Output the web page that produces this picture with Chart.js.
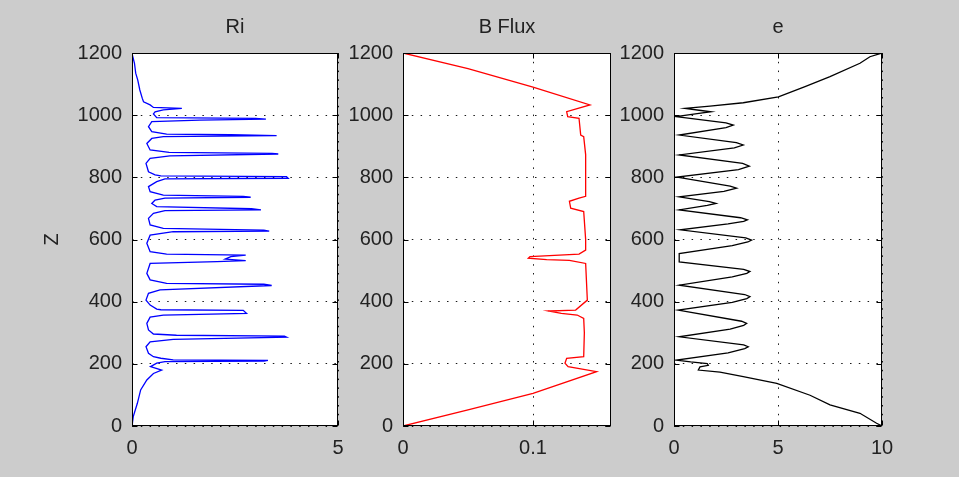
<!DOCTYPE html>
<html><head><meta charset="utf-8">
<script src="https://cdn.jsdelivr.net/npm/chart.js@4.4.1/dist/chart.umd.min.js"></script>
<style>
html,body{margin:0;padding:0;background:#cccccc;}
#wrap{position:relative;width:959px;height:477px;overflow:hidden;background:#cccccc;}
#wrap canvas{position:absolute;left:0;top:0;}
</style></head><body>
<div id="wrap">
<canvas id="c1" width="959" height="477"></canvas>
<canvas id="c2" width="959" height="477"></canvas>
<canvas id="c3" width="959" height="477"></canvas>
</div>
<script>
// ---- tick labels ----
const zTicks = [0, 200, 400, 600, 800, 1000, 1200];
const riTicks = [0, 5];
const fluxTicks = [0, 0.1];
const eTicks = [0, 5, 10];
const panelTitles = ['Ri', 'B Flux', 'e'];
const zLabel = 'Z';

// ---- Ri profile ----
const riZ = [0,9,30,73,116,148,169,180,191,202,207,209,211,213,218,223,234,255,271,279,286,289,292,296,309,330,350,357,362,372,374,376,389,405,427,438,452,456,459,470,491,523,529,532,537,545,550,553,561,588,614,625,627,630,636,647,668,684,693,695,699,706,716,727,733,736,739,743,754,770,786,795,797,802,805,808,818,845,861,869,875,877,880,888,909,925,931,934,937,939,947,963,979,984,987,990,992,1004,1011,1017,1022,1025,1033,1043,1054,1081,1113,1135,1167,1199,1200];
const riValues = [0,0.01,0.03,0.13,0.21,0.36,0.52,0.72,0.45,0.6,0.8,3.2,3.3,1.0,0.7,0.52,0.40,0.34,0.44,1.0,3.75,3.7,1.08,0.52,0.40,0.36,0.44,0.76,2.78,2.7,0.7,0.6,0.44,0.34,0.40,0.68,3.39,3.2,0.84,0.44,0.36,0.44,2.06,2.76,2.26,2.4,2.76,0.84,0.44,0.36,0.44,1.0,3.33,3.2,0.76,0.44,0.40,0.52,0.8,3.13,2.9,0.6,0.48,0.56,0.8,2.88,2.7,0.76,0.44,0.40,0.60,0.8,3.79,3.75,0.7,0.56,0.40,0.34,0.44,0.92,3.55,3.4,0.9,0.44,0.36,0.48,0.76,3.51,2.4,0.84,0.48,0.40,0.48,1.65,3.25,3.0,0.6,0.52,0.56,0.76,1.21,0.52,0.44,0.28,0.25,0.19,0.14,0.09,0.06,0.0,0];

// ---- B Flux profile ----
const fluxZ = [0,52,105,175,191,202,218,223,300,346,357,362,370,373,405,523,533,535,540,545,553,566,600,690,701,723,733,739,873,931,936,990,995,1011,1033,1090,1150,1200];
const fluxValues = [0,0.05,0.1,0.1489,0.127,0.1246,0.1259,0.139,0.1395,0.139,0.134,0.1218,0.1118,0.1328,0.1418,0.1405,0.128,0.1105,0.0964,0.0977,0.1354,0.1405,0.1405,0.139,0.129,0.128,0.1354,0.1405,0.1405,0.139,0.1367,0.1354,0.1267,0.1259,0.1438,0.1,0.05,0];

// ---- e profile ----
const eZ = [0,9,41,68,99,137,159,173,180,190,195,201,206,212,235,249,255,261,287,312,324,330,337,373,398,410,416,423,453,480,491,497,504,528,555,580,592,598,605,631,650,658,663,670,695,710,716,722,737,755,765,772,801,825,836,845,872,895,904,912,936,960,968,975,995,1006,1011,1015,1022,1029,1040,1059,1092,1124,1167,1188,1200];
const eValues = [10,9.74,8.94,7.5,6.54,4.94,3.33,2.21,1.17,1.25,1.65,1.6,0.8,0.13,2.6,3.4,3.57,3.35,0.25,2.7,3.35,3.49,3.25,0.2,2.8,3.5,3.65,3.4,0.25,2.8,3.5,3.65,3.35,0.25,0.25,2.8,3.55,3.73,3.45,0.3,2.6,3.35,3.53,3.2,0.25,1.6,2.02,1.7,0.25,2.4,3.01,2.7,0.15,3.1,3.62,3.3,0.25,2.9,3.33,3.0,0.25,2.5,2.85,2.5,0.1,1.2,1.77,1.3,0.53,1.73,3.33,5.02,6.3,7.5,8.94,9.42,10];

Chart.defaults.font.family = '"Liberation Sans", Arial, Helvetica, sans-serif';
Chart.defaults.font.size = 20;
Chart.defaults.color = '#222';

const boxPlugin = {
  id: 'boxTicks',
  beforeDraw(chart) {
    const ctx = chart.ctx, a = chart.chartArea;
    ctx.save();
    ctx.fillStyle = '#ffffff';
    ctx.fillRect(a.left, a.top, a.right - a.left, a.bottom - a.top);
    ctx.restore();
  },
  afterDatasetsDraw(chart) {
    const ctx = chart.ctx, a = chart.chartArea, xs = chart.scales.x, ys = chart.scales.y;
    const L = Math.round(a.left) + 0.5, R = Math.round(a.right) - 0.5;
    const T = Math.round(a.top) + 0.5, B = Math.round(a.bottom) - 0.5;
    ctx.save();
    ctx.strokeStyle = '#000';
    ctx.lineWidth = 1;
    ctx.beginPath();
    ys.ticks.forEach(t => {
      const p = Math.round(ys.getPixelForValue(t.value)) + 0.5;
      ctx.moveTo(L, p); ctx.lineTo(L + 5, p);
      ctx.moveTo(R, p); ctx.lineTo(R - 5, p);
    });
    xs.ticks.forEach(t => {
      const p = Math.round(xs.getPixelForValue(t.value)) + 0.5;
      ctx.moveTo(p, B); ctx.lineTo(p, B - 5);
      ctx.moveTo(p, T); ctx.lineTo(p, T + 5);
    });
    ctx.stroke();
    ctx.strokeRect(L, T, R - L, B - T);
    ctx.restore();
  }
};

function makePanel(id, cfg) {
  const pts = cfg.zs.map((z, i) => ({x: cfg.vals[i], y: z}));
  return new Chart(document.getElementById(id), {
    type: 'scatter',
    data: { datasets: [{ data: pts, showLine: true, pointRadius: 0, borderColor: cfg.color, borderWidth: 1.3, fill: false, tension: 0 }] },
    options: {
      responsive: false, animation: false, events: [], devicePixelRatio: 1,
      layout: { padding: { left: cfg.padLeft, right: cfg.padRight, top: 0, bottom: 0 } },
      plugins: {
        legend: { display: false }, tooltip: { enabled: false },
        title: { display: true, text: cfg.title, fullSize: false, color: '#222',
                 font: { size: 20, weight: 'normal' }, padding: { top: 15, bottom: 14 } }
      },
      scales: {
        x: {
          type: 'linear', min: 0, max: cfg.xmax,
          afterBuildTicks: s => { s.ticks = cfg.xTicks.map(v => ({ value: v })); },
          afterFit: s => { s.height = 51; },
          ticks: { padding: 10, autoSkip: false, maxRotation: 0, color: '#222', callback: v => String(v) },
          grid: { drawTicks: false, color: 'rgba(0,0,0,0.9)', lineWidth: 1 },
          border: { display: false, dash: [1.5, 7.3] }
        },
        y: {
          type: 'linear', min: 0, max: 1200,
          afterBuildTicks: s => { s.ticks = zTicks.map(v => ({ value: v })); },
          afterFit: s => { s.width = cfg.yWidth; },
          ticks: { padding: 10, autoSkip: false, color: '#222', callback: v => String(v) },
          grid: { drawTicks: false, color: 'rgba(0,0,0,0.9)', lineWidth: 1 },
          border: { display: false, dash: [1.5, 7.3] },
          title: { display: cfg.showZ, text: zLabel, color: '#222', font: { size: 20 }, padding: { top: 40, bottom: 0 } }
        }
      }
    },
    plugins: [boxPlugin]
  });
}

makePanel('c1', { zs: riZ, vals: riValues, color: '#0000ff', title: panelTitles[0], xmax: 5, xTicks: riTicks, padLeft: 0, padRight: 621, yWidth: 132, showZ: true });
makePanel('c2', { zs: fluxZ, vals: fluxValues, color: '#ff0000', title: panelTitles[1], xmax: 0.16, xTicks: fluxTicks, padLeft: 343, padRight: 348, yWidth: 60, showZ: false });
makePanel('c3', { zs: eZ, vals: eValues, color: '#000000', title: panelTitles[2], xmax: 10, xTicks: eTicks, padLeft: 614, padRight: 77, yWidth: 60, showZ: false });
</script>
</body></html>
